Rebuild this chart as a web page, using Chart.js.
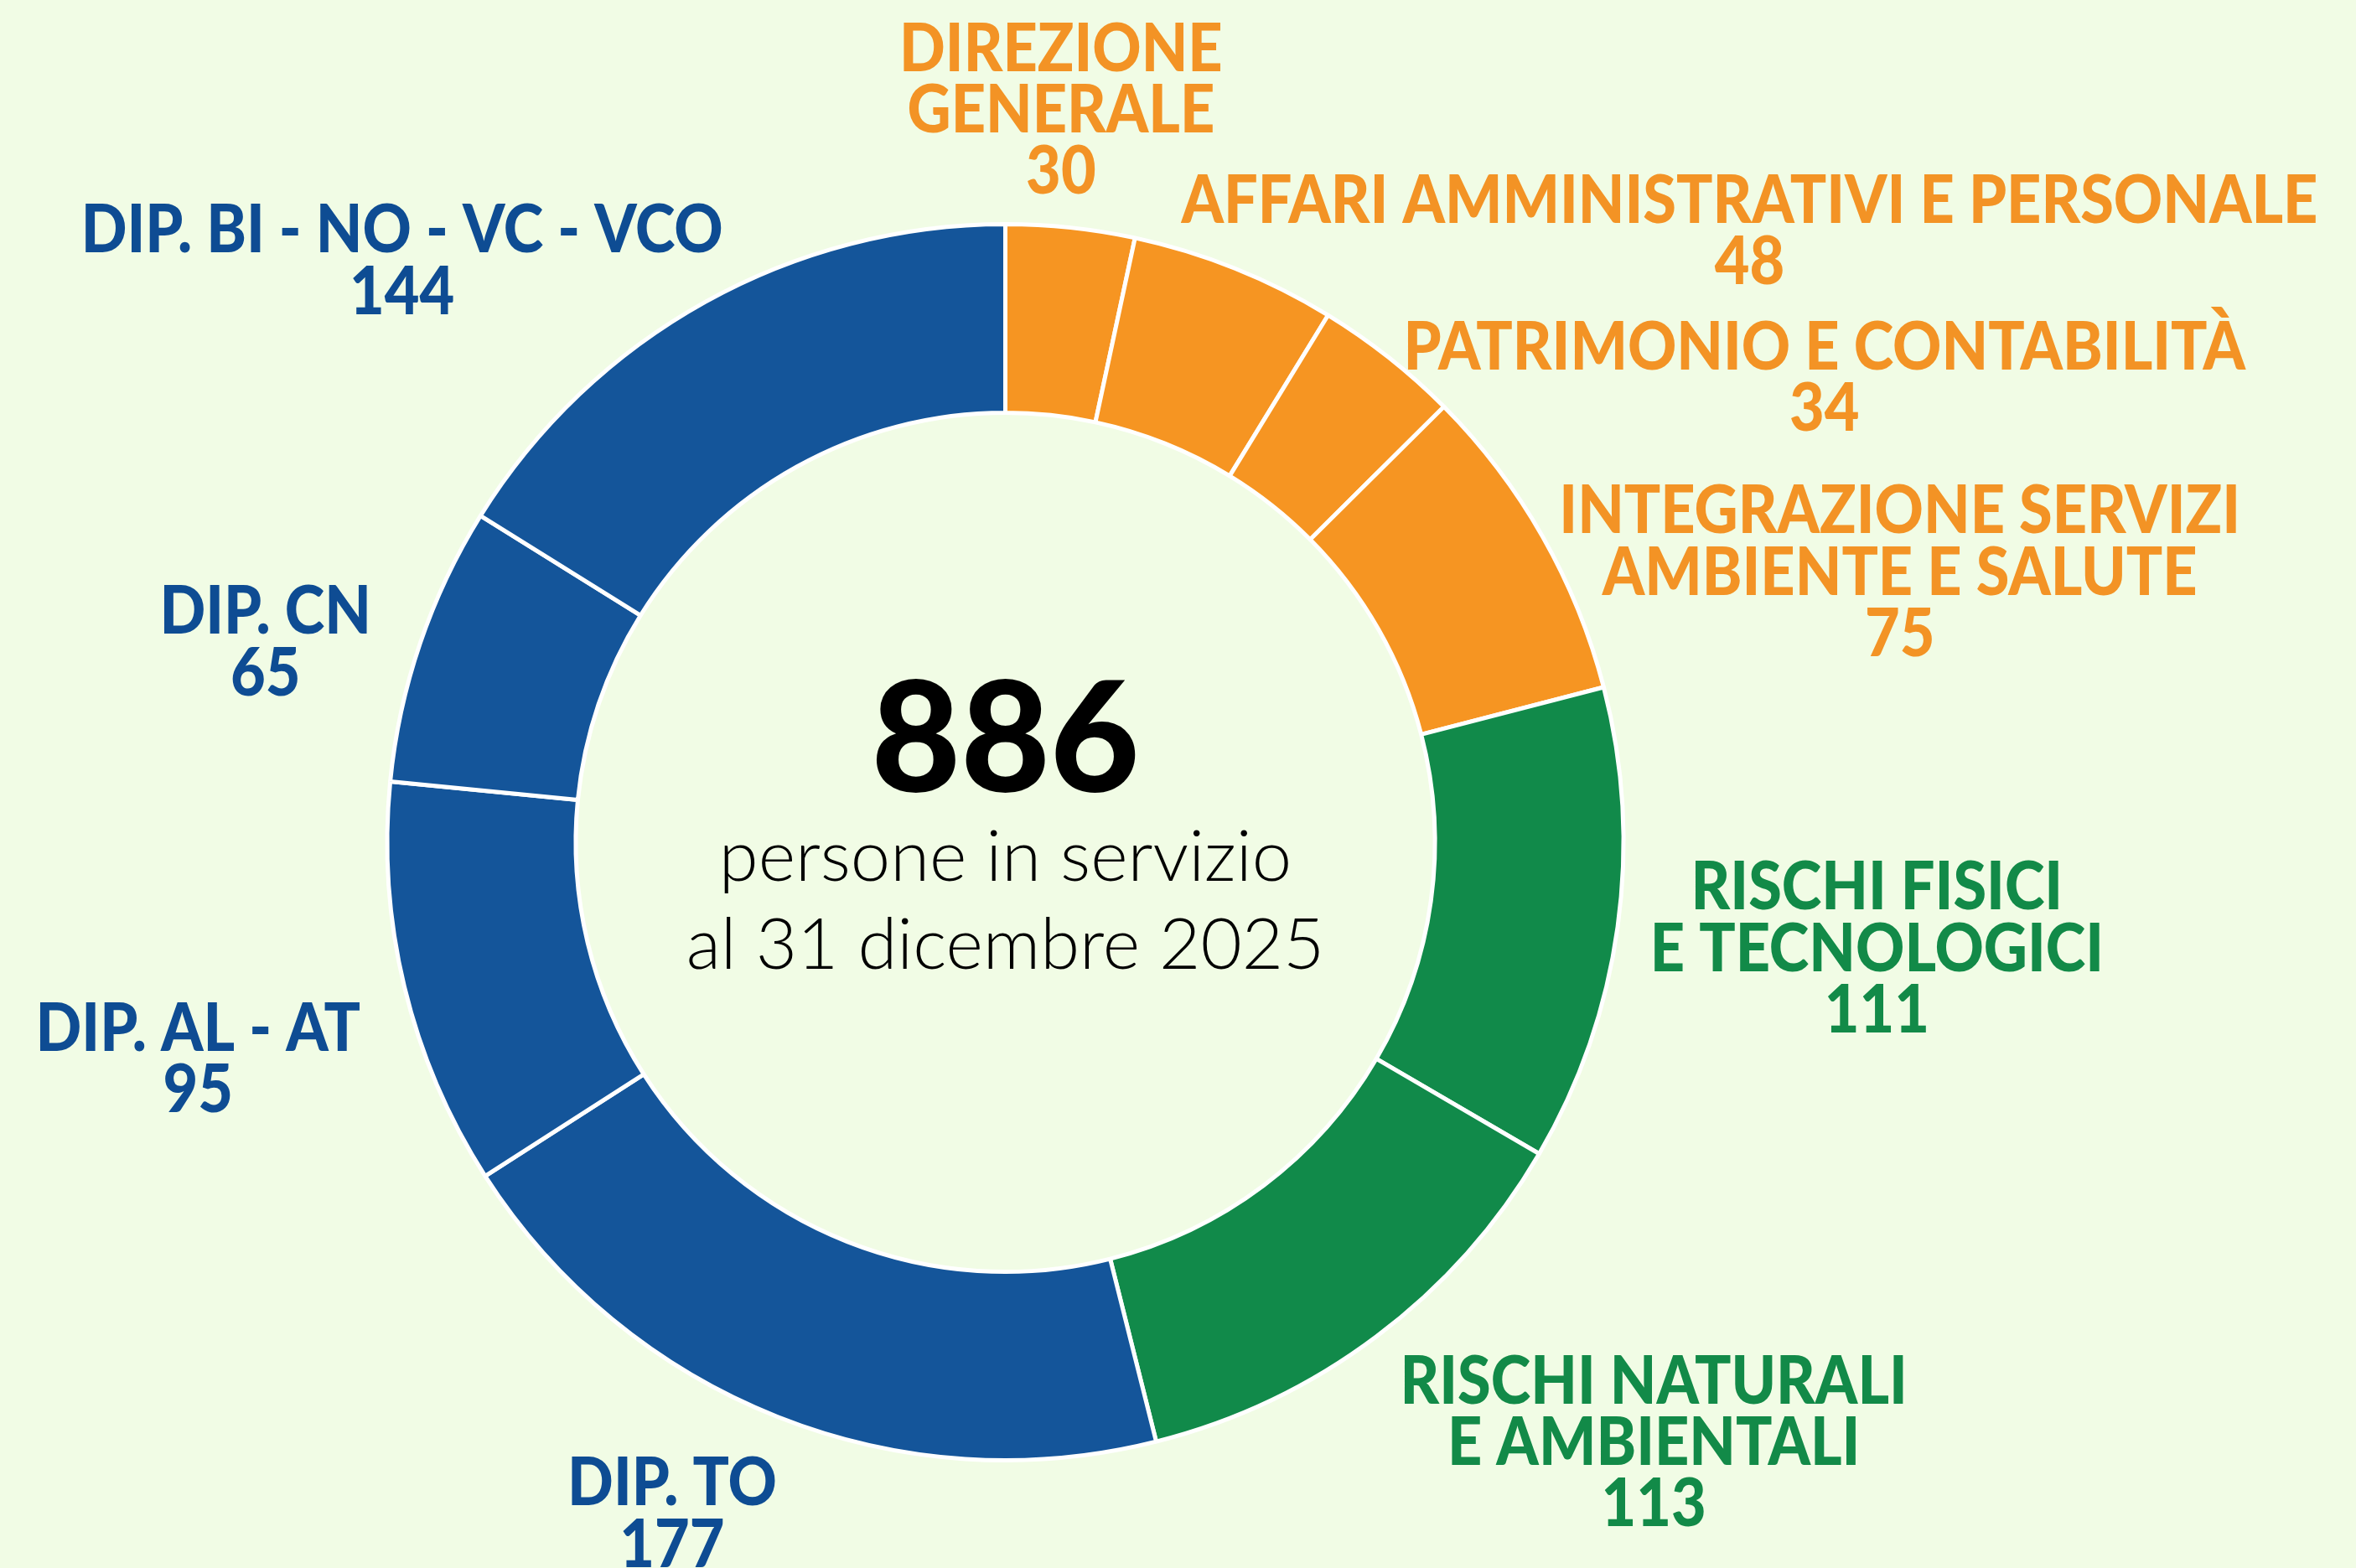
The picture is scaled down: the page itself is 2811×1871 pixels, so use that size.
<!DOCTYPE html>
<html>
<head>
<meta charset="utf-8">
<script src="https://cdn.jsdelivr.net/npm/chart.js@4"></script>
<style>
  html, body { margin: 0; padding: 0; background: #F1FCE5; }
  canvas { display: block; }
</style>
</head>
<body>
<canvas id="staffChart" width="2811" height="1871"></canvas>
<script>
const categories = [
  'DIREZIONE GENERALE',
  'AFFARI AMMINISTRATIVI E PERSONALE',
  'PATRIMONIO E CONTABILITÀ',
  'INTEGRAZIONE SERVIZI AMBIENTE E SALUTE',
  'RISCHI FISICI E TECNOLOGICI',
  'RISCHI NATURALI E AMBIENTALI',
  'DIP. TO',
  'DIP. AL - AT',
  'DIP. CN',
  'DIP. BI - NO - VC - VCO'
];
const labelLines = [
  ['DIREZIONE', 'GENERALE'],
  ['AFFARI AMMINISTRATIVI E PERSONALE'],
  ['PATRIMONIO E CONTABILITÀ'],
  ['INTEGRAZIONE SERVIZI', 'AMBIENTE E SALUTE'],
  ['RISCHI FISICI', 'E TECNOLOGICI'],
  ['RISCHI NATURALI', 'E AMBIENTALI'],
  ['DIP. TO'],
  ['DIP. AL - AT'],
  ['DIP. CN'],
  ['DIP. BI - NO - VC - VCO']
];
const staff = [30, 48, 34, 75, 111, 113, 177, 95, 65, 144];
const groups = ['central', 'central', 'central', 'central', 'tech', 'tech', 'dept', 'dept', 'dept', 'dept'];
const totalText = '886';
const subtitle = ['persone in servizio', 'al 31 dicembre 2025'];

const fillColors = { central: '#F69522', tech: '#118A4A', dept: '#14559A' };
const textColors = { central: '#F39325', tech: '#128A48', dept: '#0E4C93' };

// label anchors: centre x and first baseline, in units of outer radius from the donut centre
const labelPos = [
  [0.090, -1.248], [1.204, -1.002], [1.325, -0.765], [1.447, -0.500], [1.410, 0.109],
  [1.049, 0.908], [-0.539, 1.073], [-1.306, 0.337], [-1.197, -0.337], [-0.976, -0.954]
];

const textPlugin = {
  id: 'textPlugin',
  beforeDraw(chart) {
    const c = chart.ctx;
    c.save();
    c.fillStyle = '#F1FCE5';
    c.fillRect(0, 0, chart.width, chart.height);
    c.restore();
  },
  afterDraw(chart) {
    const c = chart.ctx;
    const arcs = chart.getDatasetMeta(0).data;
    const cx = arcs[0].x, cy = arcs[0].y, R = arcs[0].outerRadius;
    const lh = R * 0.0995;
    const sx = 0.9; // labels font is narrower than Lato
    c.save();
    c.textAlign = 'center';
    c.textBaseline = 'alphabetic';
    c.font = '900 80px Lato';
    staff.forEach((v, i) => {
      const lines = labelLines[i].concat([String(v)]);
      const x = cx + labelPos[i][0] * R;
      let y = cy + labelPos[i][1] * R;
      c.fillStyle = textColors[groups[i]];
      lines.forEach(t => {
        c.save();
        c.translate(x, y);
        c.scale(sx, 1);
        c.fillText(t, 0, 0);
        c.restore();
        y += lh;
      });
    });
    c.fillStyle = '#000';
    c.font = '900 184px Lato';
    c.fillText(totalText, cx, cy - 60);
    c.font = '300 85px Lato';
    c.fillText(subtitle[0], cx, cy + 46);
    c.fillText(subtitle[1], cx, cy + 151);
    c.restore();
  }
};

new Chart(document.getElementById('staffChart'), {
  type: 'doughnut',
  data: {
    labels: categories,
    datasets: [{
      data: staff,
      backgroundColor: groups.map(g => fillColors[g]),
      borderColor: '#FFFFFF',
      borderWidth: 5
    }]
  },
  options: {
    responsive: false,
    animation: false,
    cutout: '69.5%',
    layout: { padding: { left: 459, right: 871, top: 265, bottom: 126 } },
    plugins: { legend: { display: false }, tooltip: { enabled: false } }
  },
  plugins: [textPlugin]
});
</script>
</body>
</html>
